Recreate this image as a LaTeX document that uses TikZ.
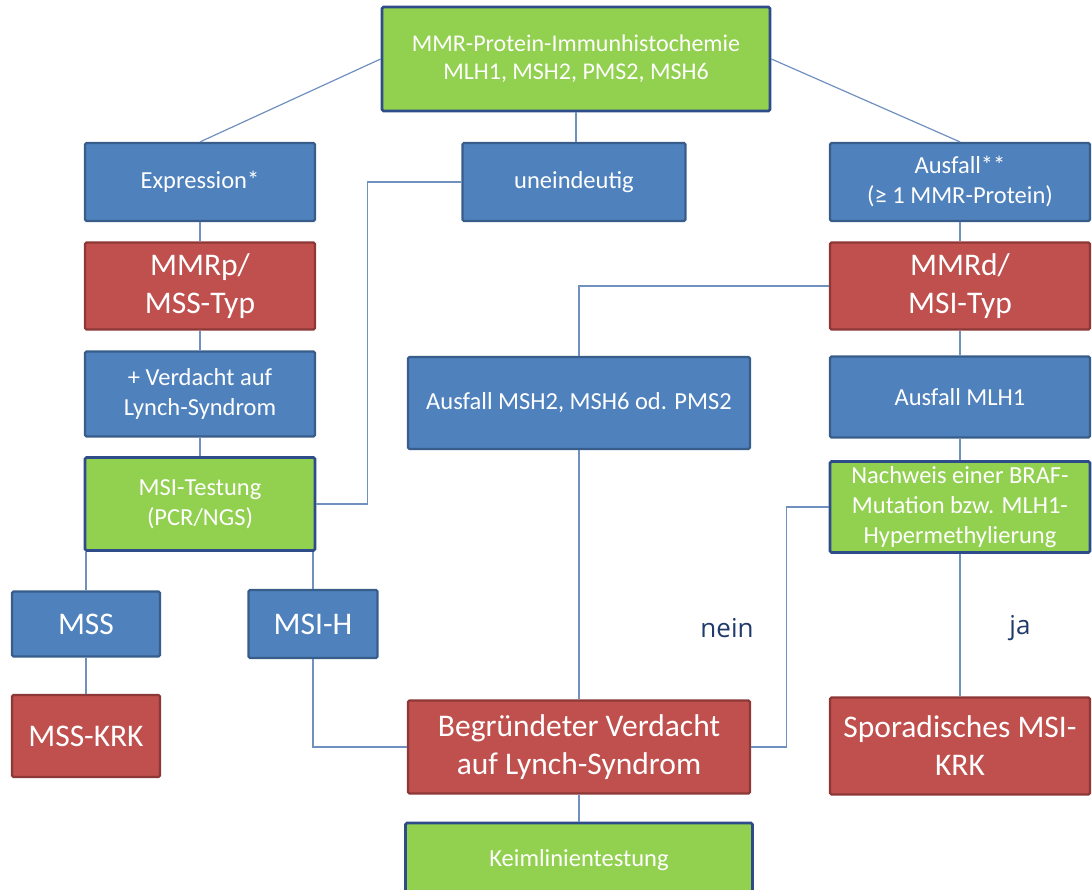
\documentclass[tikz,border=0pt]{standalone}
\usepackage{fontspec}
\setmainfont{Carlito}
\newfontfamily\answerfont{Open Sans}
\definecolor{boxblue}{HTML}{4F81BD}
\definecolor{boxblueline}{HTML}{385D8A}
\definecolor{boxred}{HTML}{C0504D}
\definecolor{boxredline}{HTML}{8C3836}
\definecolor{boxgreen}{HTML}{92D050}
\definecolor{boxgreenline}{HTML}{2E4C8A}
\definecolor{connline}{HTML}{7090C0}
\definecolor{answernavy}{HTML}{1F3A6B}
\begin{document}
\begin{tikzpicture}[x=1pt, y=-1pt,
  box/.style={draw, rectangle, rounded corners=1.5pt, inner sep=0pt,
              align=center, text=white},
  bluebox/.style={box, fill=boxblue, draw=boxblueline, line width=2.2pt,
                  font=\fontsize{24.5}{30}\selectfont},
  redbox/.style={box, fill=boxred, draw=boxredline, line width=2.2pt,
                 font=\fontsize{31.5}{38}\selectfont},
  greenbox/.style={box, fill=boxgreen, draw=boxgreenline, line width=2.8pt,
                   font=\fontsize{24.5}{30}\selectfont},
  conn/.style={draw=connline, line width=1.2pt},
  answer/.style={text=answernavy, font=\answerfont\fontsize{26}{30}\selectfont}]
  \clip (0,0) rectangle (1092,890);

  % top and first row
  \node (top) [greenbox, minimum width=388pt, minimum height=104pt,
               font=\fontsize{24}{28}\selectfont] at (576,59)
              {MMR-Protein-Immunhistochemie\\MLH1, MSH2, PMS2, MSH6};
  \node (expr) [bluebox, minimum width=230pt, minimum height=78pt] at (200,182)
              {Expression*};
  \node (unein) [bluebox, minimum width=223pt, minimum height=78pt] at (574,182)
              {uneindeutig};
  \node (ausfall) [bluebox, minimum width=260pt, minimum height=78pt] at (960,182)
              {Ausfall**\\(≥ 1 MMR-Protein)};

  % left column
  \node (mmrp) [redbox, minimum width=230pt, minimum height=87pt] at (200,286)
              {MMRp/\\MSS-Typ};
  \node (verd) [bluebox, minimum width=230pt, minimum height=85pt] at (200,394)
              {+ Verdacht auf\\Lynch-Syndrom};
  \node (msitest) [greenbox, minimum width=230pt, minimum height=93pt] at (200,504)
              {MSI-Testung\\(PCR/NGS)};
  \node (mss) [bluebox, minimum width=148pt, minimum height=65pt,
               font=\fontsize{31.5}{38}\selectfont] at (86,624) {MSS};
  \node (msih) [bluebox, minimum width=129pt, minimum height=68pt,
                font=\fontsize{31.5}{38}\selectfont] at (313,624) {MSI-H};
  \node (msskrk) [redbox, minimum width=148pt, minimum height=82pt] at (86,736)
              {MSS-KRK};

  % middle column
  \node (ausmsh) [bluebox, minimum width=342pt, minimum height=92pt] at (579,403)
              {Ausfall MSH2, MSH6 od. PMS2};
  \node (begr) [redbox, minimum width=342pt, minimum height=93pt] at (579,747)
              {Begründeter Verdacht\\auf Lynch-Syndrom};
  \node (keim) [greenbox, minimum width=347pt, minimum height=74pt] at (579,860)
              {Keimlinientestung};

  % right column
  \node (mmrd) [redbox, minimum width=260pt, minimum height=87pt] at (960,286)
              {MMRd/\\MSI-Typ};
  \node (mlh) [bluebox, minimum width=260pt, minimum height=81pt] at (960,397)
              {Ausfall MLH1};
  \node (braf) [greenbox, minimum width=260pt, minimum height=91pt] at (960,507)
              {Nachweis einer BRAF-\\Mutation bzw. MLH1-\\Hypermethylierung};
  \node (spor) [redbox, minimum width=260pt, minimum height=97pt] at (960,746)
              {Sporadisches MSI-\\KRK};

  \node (nein) [answer] at (727,628) {nein};
  \node (ja) [answer] at (1020,628) {ja};

  % connectors
  \draw[conn] (top.west) -- (expr.north);
  \draw[conn] (top.east) -- (ausfall.north);
  \draw[conn] (top.south) -- (top.south |- unein.north);
  \draw[conn] (expr) -- (mmrp);
  \draw[conn] (mmrp) -- (verd);
  \draw[conn] (verd) -- (msitest);
  \draw[conn] (unein.west) -- ++(-94,0) |- (msitest.east);
  \draw[conn] (mss.north) -- (mss.north |- msitest.south);
  \draw[conn] (msih.north) -- (msih.north |- msitest.south);
  \draw[conn] (mss) -- (msskrk);
  \draw[conn] (msih.south) |- (begr.west);
  \draw[conn] (ausfall) -- (mmrd);
  \draw[conn] (mmrd) -- (mlh);
  \draw[conn] (mlh) -- (braf);
  \draw[conn] (braf) -- (spor);
  \draw[conn] (mmrd.west) -| (ausmsh.north);
  \draw[conn] (ausmsh) -- (begr);
  \draw[conn] (begr) -- (keim);
  \draw[conn] (braf.west) -- ++(-42,0) |- (begr.east);
\end{tikzpicture}
\end{document}
